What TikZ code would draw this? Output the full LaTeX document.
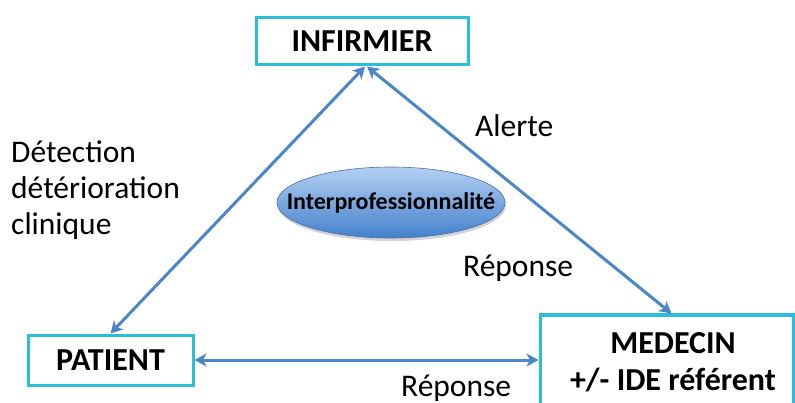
\documentclass[tikz,border=0pt]{standalone}
\usepackage{fontspec}
\setmainfont{Carlito}
\usetikzlibrary{arrows.meta,shapes.geometric,shadows,calc}
\definecolor{boxcyan}{RGB}{43,190,216}
\definecolor{arrblue}{RGB}{74,134,200}
\definecolor{elltop}{RGB}{180,208,242}
\definecolor{ellbot}{RGB}{68,128,204}
\definecolor{ellline}{RGB}{70,110,170}
\begin{document}
\begin{tikzpicture}[x=1pt,y=-1pt,
  role/.style={draw=boxcyan,line width=3pt,fill=white,inner sep=0pt,font=\fontsize{32}{38}\selectfont\bfseries},
  roletext/.style={inner sep=0pt,anchor=base,font=\fontsize{32}{38}\selectfont\bfseries},
  lbl/.style={inner sep=0pt,anchor=base west,font=\fontsize{31.5}{36}\selectfont},
  link/.style={draw=arrblue,line width=3pt,{Stealth[length=12pt,width=13pt,inset=3.5pt]}-{Stealth[length=12pt,width=13pt,inset=3.5pt]}},
]
\useasboundingbox (0,0) rectangle (795,403);
\clip (0,0) rectangle (795,403);

\node[role,minimum width=212pt,minimum height=47pt] (inf) at (362,41.5) {INFIRMIER};
\node[role,minimum width=165pt,minimum height=50pt] (pat) at (110.5,360) {PATIENT};
\node[role,minimum width=253pt,minimum height=105pt] (med) at (666.5,367.5) {};
\node[roletext] (med1) at (673,353) {MEDECIN};
\node[roletext] (med2) at (673,390) {+/- IDE référent};

\node[ellipse,draw=ellline,line width=0.6pt,top color=elltop,bottom color=ellbot,
      minimum width=228pt,minimum height=71pt,inner xsep=-25pt,inner ysep=0pt,
      drop shadow={shadow xshift=1pt,shadow yshift=-3pt,opacity=0.35},
      font=\fontsize{24}{28}\selectfont\bfseries] (ell) at (391,202.5) {Interprofessionnalité};

\draw[link] (pat.north) -- ($(inf.south)+(3,0)$);
\draw[link] ($(inf.south)+(5,0)$) -- ($(med.north)+(5,0)$);
\draw[link] (pat.east) -- (pat.east -| med.west);

\node[lbl] (d1) at (11,163) {Détection};
\node[lbl] (d2) at (11,199) {détérioration};
\node[lbl] (d3) at (11,235) {clinique};
\node[lbl] (alerte) at (475,137) {Alerte};
\node[lbl] (rep1) at (463,277) {Réponse};
\node[lbl] (rep2) at (401,396) {Réponse};
\end{tikzpicture}
\end{document}
